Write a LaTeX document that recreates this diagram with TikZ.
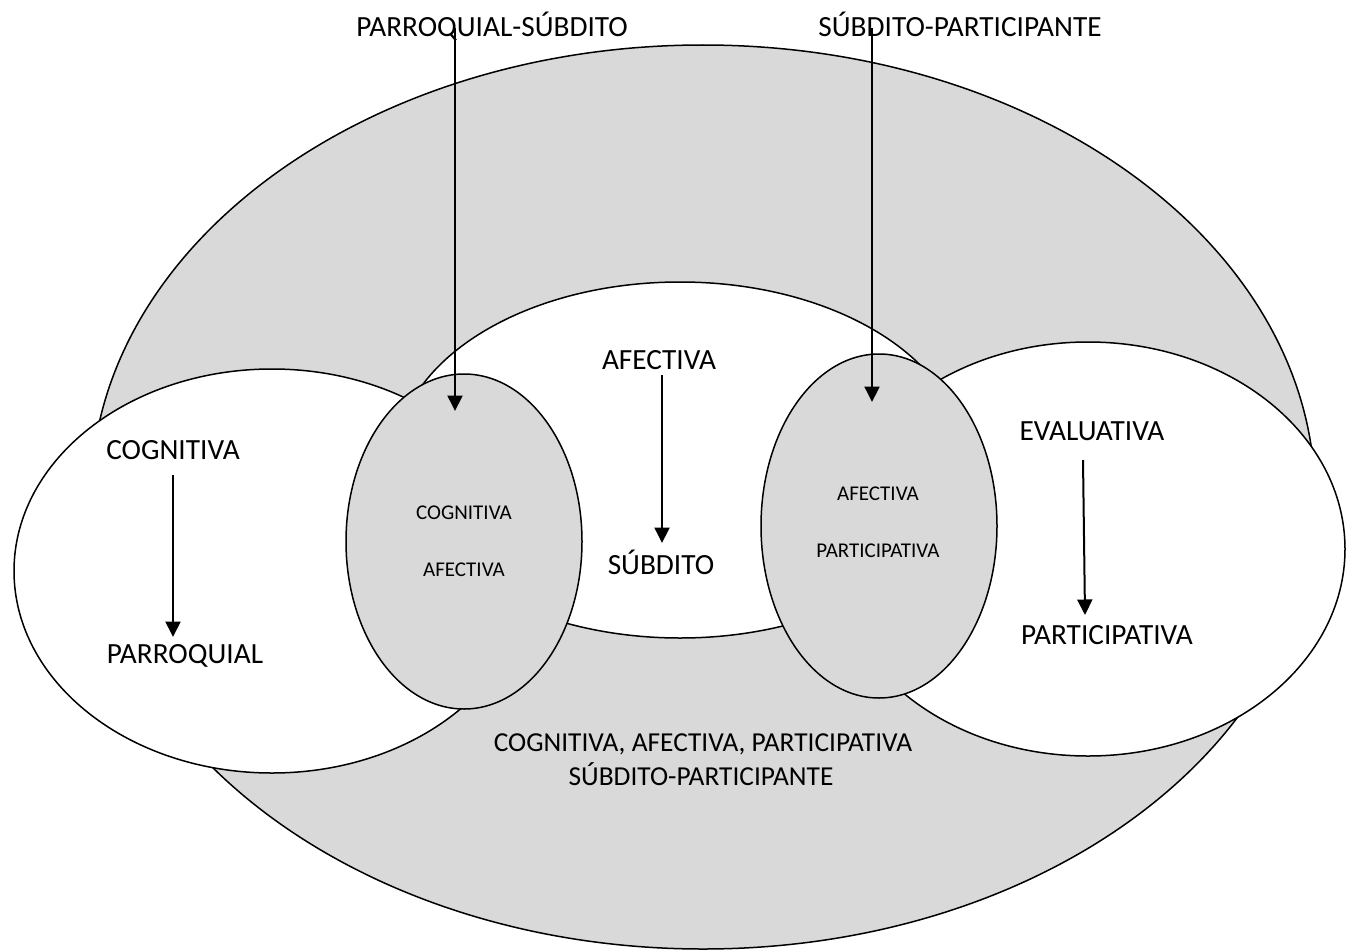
\documentclass[tikz,border=0pt]{standalone}
\usepackage{fontspec}
\setmainfont{Carlito}
\usetikzlibrary{arrows.meta}
\definecolor{shade}{RGB}{217,217,217}
\tikzset{
 ring/.style={draw=black, line width=1.5pt},
 grayfill/.style={ring, fill=shade},
 whitefill/.style={ring, fill=white},
 big/.style={inner sep=0pt, anchor=base, font=\fontsize{29.3}{35}\selectfont},
 mid/.style={inner sep=0pt, anchor=base, font=\fontsize{27.4}{33}\selectfont},
 small/.style={inner sep=0pt, anchor=base, font=\fontsize{21}{25}\selectfont},
 arr/.style={line width=2pt, -{Triangle[length=15.5pt,width=15pt]}}
}
\begin{document}
\begin{tikzpicture}[x=1pt,y=-1pt]
\useasboundingbox (0,0) rectangle (1346,950);
\fill[white] (0,0) rectangle (1346,950);
\draw[grayfill] (703,497) ellipse [x radius=612pt, y radius=452pt];
\draw[whitefill] (680,460) ellipse [x radius=284pt, y radius=178pt];
\draw[whitefill] (272,571) ellipse [x radius=258pt, y radius=202pt];
\draw[whitefill] (1088,549) ellipse [x radius=257pt, y radius=207pt];
\draw[grayfill] (464,541.5) ellipse [x radius=118pt, y radius=167.5pt];
\draw[grayfill] (879,526) ellipse [x radius=118pt, y radius=172pt];

\coordinate (a1s) at (455,28);  \coordinate (a1e) at (455,411);
\coordinate (a2s) at (872,28);  \coordinate (a2e) at (872,402);
\coordinate (a3s) at (662,375); \coordinate (a3e) at (662,543);
\coordinate (a4s) at (173,475); \coordinate (a4e) at (173,637);
\coordinate (a5s) at (1083,460); \coordinate (a5e) at (1085,615);
\draw[arr] (a1s) -- (a1e);
\draw[arr] (a2s) -- (a2e);
\draw[arr] (a3s) -- (a3e);
\draw[arr] (a4s) -- (a4e);
\draw[arr] (a5s) -- (a5e);

\node[big] (ps) at (492,37) {PARROQUIAL-SÚBDITO};
\node[big] (sp) at (960,37) {SÚBDITO-PARTICIPANTE};
\node[big] (af) at (659,369) {AFECTIVA};
\node[big] (su) at (661,574) {SÚBDITO};
\node[big] (cog) at (173,459) {COGNITIVA};
\node[big] (par) at (185,663) {PARROQUIAL};
\node[big] (ev) at (1092,440) {EVALUATIVA};
\node[big] (pa) at (1107,644) {PARTICIPATIVA};
\node[small] (cg2) at (464,519) {COGNITIVA};
\node[small] (af2) at (464,576) {AFECTIVA};
\node[small] (af3) at (878,500) {AFECTIVA};
\node[small] (pa3) at (878,557.5) {PARTICIPATIVA};
\node[mid] (all) at (703,751) {COGNITIVA, AFECTIVA, PARTICIPATIVA};
\node[mid] (sp2) at (701,785) {SÚBDITO-PARTICIPANTE};
\end{tikzpicture}
\end{document}
